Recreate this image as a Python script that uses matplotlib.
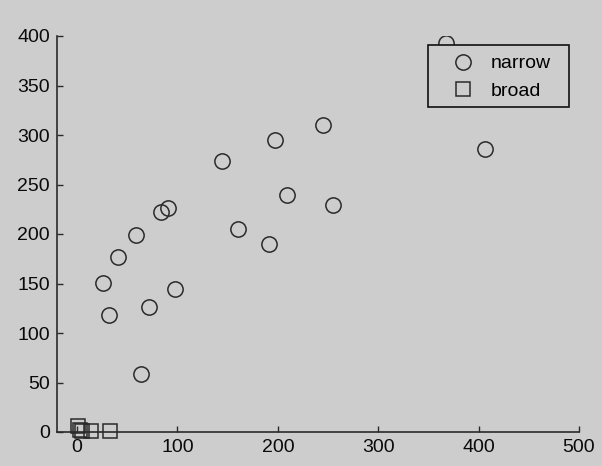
import matplotlib
matplotlib.use("Agg")
import matplotlib.pyplot as plt
from matplotlib.patches import Rectangle

narrow_x = [368, 406, 245, 197, 144, 209, 255, 160, 191, 84, 91, 59, 41, 26, 32, 72, 98, 64]
narrow_y = [393, 286, 310, 295, 274, 239, 229, 205, 190, 222, 226, 199, 177, 151, 118, 126, 144, 59]
broad_x = [1, 3, 5, 14, 33]
broad_y = [6, 2, 1, 1, 1]
xticks = [0, 100, 200, 300, 400, 500]
yticks = [0, 50, 100, 150, 200, 250, 300, 350, 400]

bg = "#cdcdcd"
ink = "#2a2a2a"
plt.rcParams['font.family'] = ['Liberation Sans', 'DejaVu Sans']

W, H = 602, 466
fig = plt.figure(figsize=(W/100, H/100), dpi=100, facecolor=bg)
ax = fig.add_axes([57/W, (H-432)/H, (579-57)/W, (432-36)/H])
ax.set_facecolor(bg)

ax.plot(narrow_x, narrow_y, linestyle='none', marker='o', markersize=11,
        markerfacecolor='none', markeredgecolor=ink, markeredgewidth=1.1, label='narrow')
ax.plot(broad_x, broad_y, linestyle='none', marker='s', markersize=10,
        markerfacecolor='none', markeredgecolor=ink, markeredgewidth=1.1, label='broad',
        clip_on=False)

ax.set_xlim(-20, 500)
ax.set_ylim(0, 400)
ax.set_xticks(xticks)
ax.set_yticks(yticks)
for s in ['top', 'right']:
    ax.spines[s].set_visible(False)
for s in ['left', 'bottom']:
    ax.spines[s].set_color(ink)
    ax.spines[s].set_linewidth(1.2)
ax.tick_params(direction='in', length=4, width=1, colors=ink, labelsize=14,
               labelcolor='#0a0a0a', pad=5)

# legend frame box
box = Rectangle((428/W, (H-107)/H), 141/W, 62/H, transform=fig.transFigure,
                facecolor=bg, edgecolor='#111111', linewidth=1.2, zorder=4.5, clip_on=False)
ax.add_patch(box)

leg = ax.legend(loc='upper left', bbox_to_anchor=((428-57)/(579-57), 1-(47-36)/(432-36)),
                frameon=False, fontsize=14, borderpad=0.4,
                handletextpad=0.0, handlelength=2.8, labelspacing=0.5, borderaxespad=0)
leg.set_zorder(5)

fig.savefig('out.png', dpi=100, facecolor=bg)
